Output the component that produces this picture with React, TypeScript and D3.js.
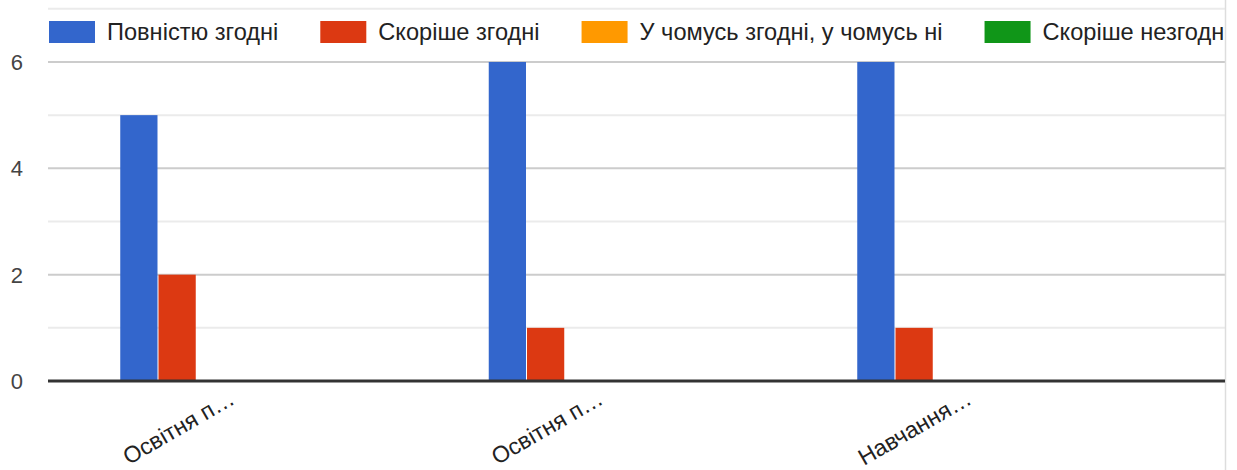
import React, { useEffect, useRef } from 'react';
import * as d3 from 'd3';

const categories = ['Освітня п…', 'Освітня п…', 'Навчання…'];
const seriesNames = ['Повністю згодні', 'Скоріше згодні', 'У чомусь згодні, у чомусь ні', 'Скоріше незгодн'];
const seriesColors = ['#3366cc', '#dc3912', '#ff9900', '#109618'];
// values per series, one per category
const fullyAgree = [5, 6, 6];
const ratherAgree = [2, 1, 1];
const partlyAgree = [0, 0, 0];
const ratherDisagree = [0, 0, 0];
const yTicks = [0, 2, 4, 6];
const yMinorTicks = [1, 3, 5, 7];

const App: React.FC = () => {
  const svgRef = useRef<SVGSVGElement>(null);

  useEffect(() => {
    if (!svgRef.current) return;
    const svg = d3.select(svgRef.current);
    svg.selectAll('*').remove();

    const width = 1237;
    const height = 470;
    const left = 48;
    const right = 1225;
    const step = 368.5;
    const font = 'Arial, "Liberation Sans", sans-serif';

    const values = [fullyAgree, ratherAgree, partlyAgree, ratherDisagree];

    const y = d3.scaleLinear().domain([0, 7]).range([381, 8.8]);
    const x0 = d3
      .scaleBand<number>()
      .domain(categories.map((_, i) => i))
      .range([left, left + step * categories.length])
      .paddingInner(0)
      .paddingOuter(0);
    const x1 = d3
      .scaleBand<number>()
      .domain(seriesNames.map((_, i) => i))
      .range([0, seriesNames.length * 38])
      .paddingInner(1 / 38)
      .paddingOuter(0);
    const groupOffset = 112;

    // gridlines
    svg
      .append('g')
      .selectAll('line.minor')
      .data(yMinorTicks)
      .enter()
      .append('line')
      .attr('x1', left)
      .attr('x2', right)
      .attr('y1', (d) => y(d))
      .attr('y2', (d) => y(d))
      .attr('stroke', '#ebebeb')
      .attr('stroke-width', 2);

    svg
      .append('g')
      .selectAll('line.major')
      .data(yTicks.filter((t) => t !== 0))
      .enter()
      .append('line')
      .attr('x1', left)
      .attr('x2', right)
      .attr('y1', (d) => y(d))
      .attr('y2', (d) => y(d))
      .attr('stroke', '#cccccc')
      .attr('stroke-width', 2);

    // right border
    svg
      .append('line')
      .attr('x1', right + 0.5)
      .attr('x2', right + 0.5)
      .attr('y1', 0)
      .attr('y2', height)
      .attr('stroke', '#dddddd')
      .attr('stroke-width', 1.5);

    // y labels
    svg
      .append('g')
      .selectAll('text')
      .data(yTicks)
      .enter()
      .append('text')
      .attr('x', 23)
      .attr('y', (d) => y(d))
      .attr('dy', '0.36em')
      .attr('text-anchor', 'end')
      .attr('font-family', font)
      .attr('font-size', 22)
      .attr('fill', '#444444')
      .text((d) => d);

    // bars
    const groups = svg
      .append('g')
      .selectAll('g')
      .data(categories.map((_, i) => i))
      .enter()
      .append('g')
      .attr('transform', (i) => `translate(${(x0(i) ?? 0) + x0.bandwidth() / 2 - groupOffset},0)`);

    groups
      .selectAll('rect')
      .data((ci) => values.map((s, si) => ({ si, v: s[ci] })))
      .enter()
      .append('rect')
      .attr('x', (d) => x1(d.si) ?? 0)
      .attr('width', x1.bandwidth())
      .attr('y', (d) => y(d.v))
      .attr('height', (d) => y(0) - y(d.v))
      .attr('fill', (d) => seriesColors[d.si]);

    // baseline
    svg
      .append('line')
      .attr('x1', left)
      .attr('x2', right)
      .attr('y1', y(0))
      .attr('y2', y(0))
      .attr('stroke', '#333333')
      .attr('stroke-width', 3);

    // x labels
    svg
      .append('g')
      .selectAll('text')
      .data(categories)
      .enter()
      .append('text')
      .attr('transform', (_, i) => {
        const cx = (x0(i) ?? 0) + x0.bandwidth() / 2 + 4;
        return `translate(${cx},${y(0) + 22}) rotate(-30)`;
      })
      .attr('text-anchor', 'end')
      .attr('font-family', font)
      .attr('font-size', 23)
      .attr('fill', '#222222')
      .text((d) => d);

    // legend
    const legend = svg.append('g');
    let lx = 49;
    seriesNames.forEach((name, i) => {
      legend
        .append('rect')
        .attr('x', lx)
        .attr('y', 21)
        .attr('width', 46)
        .attr('height', 22)
        .attr('fill', seriesColors[i]);
      const t = legend
        .append('text')
        .attr('x', lx + 58)
        .attr('y', 32)
        .attr('dy', '0.36em')
        .attr('font-family', font)
        .attr('font-size', 23.6)
        .attr('fill', '#222222')
        .text(name);
      const w = (t.node() as SVGTextElement).getComputedTextLength();
      lx = lx + 58 + w + 42;
    });

    svg.attr('width', width).attr('height', height);
  }, []);

  return (
    <div style={{ position: 'absolute', left: 0, top: 0, background: '#fff' }}>
      <svg ref={svgRef} width={1237} height={470} style={{ display: 'block', overflow: 'hidden' }} />
    </div>
  );
};

export default App;
